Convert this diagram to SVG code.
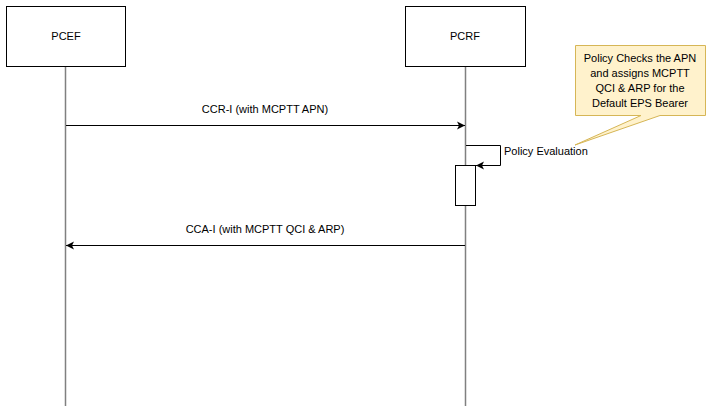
<svg xmlns="http://www.w3.org/2000/svg" width="712" height="412" viewBox="0 0 712 412">
<style>
text{font-family:"Liberation Sans",Arial,sans-serif;font-size:11px;fill:#000}
.box{fill:#fff;stroke:#000;stroke-width:1}
.life{stroke:#808080;stroke-width:1.5}
.msg{stroke:#000;stroke-width:1;fill:none}
</style>
<defs><marker id="a" markerWidth="10" markerHeight="10" refX="9" refY="5" orient="auto" markerUnits="userSpaceOnUse"><path d="M1,1 L9,5 L1,9 L3,5 Z" fill="#000"/></marker></defs>
<rect width="712" height="412" fill="#fff"/>
<g id="pcef"><line class="life" x1="65.5" y1="66" x2="65.5" y2="406"/><rect class="box" x="6.5" y="6.5" width="119" height="60"/><text x="66" y="40" text-anchor="middle">PCEF</text></g>
<g id="pcrf"><line class="life" x1="465.5" y1="66" x2="465.5" y2="406"/><rect class="box" x="405.5" y="6.5" width="120" height="60"/><text x="465" y="40" text-anchor="middle">PCRF</text></g>
<g id="activation"><rect class="box" x="455.5" y="165.5" width="20" height="40"/></g>
<g id="note"><path d="M575.5,45.5 H705.5 V115.5 H660 L575,145 L641,115.5 H575.5 Z" fill="#fff2cc" stroke="#d6b656"/>
<text x="640" y="62" text-anchor="middle">Policy Checks the APN</text><text x="640" y="77" text-anchor="middle">and assigns MCPTT</text><text x="640" y="92" text-anchor="middle">QCI &amp; ARP for the</text><text x="640" y="107" text-anchor="middle">Default EPS Bearer</text></g>
<g id="connectors">
<line class="msg" x1="66" y1="125.5" x2="465" y2="125.5" marker-end="url(#a)"/>
<text x="265" y="113" text-anchor="middle">CCR-I (with MCPTT APN)</text>
<path class="msg" d="M466,145.5 H500.5 V165.5 H476" marker-end="url(#a)"/>
<text x="504" y="155" font-size="10">Policy Evaluation</text>
<line class="msg" x1="465" y1="245.5" x2="66" y2="245.5" marker-end="url(#a)"/>
<text x="265" y="233" text-anchor="middle">CCA-I (with MCPTT QCI &amp; ARP)</text>
</g>
</svg>
